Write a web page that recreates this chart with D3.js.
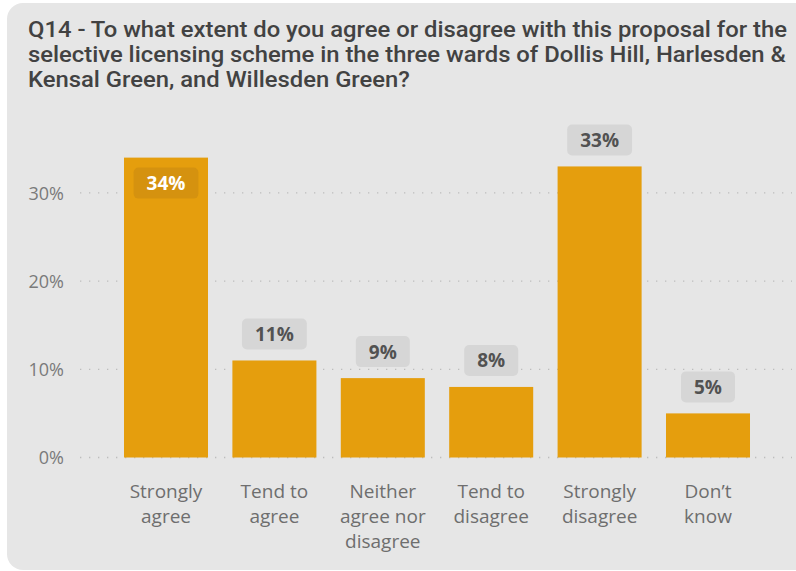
<!DOCTYPE html>
<html>
<head>
<meta charset="utf-8">
<script src="https://cdn.jsdelivr.net/npm/d3@7"></script>
<style>
  html, body { margin: 0; padding: 0; background: #ffffff; }
  svg { display: block; }
</style>
</head>
<body>
<svg id="chart" width="796" height="571"></svg>
<script>
// Survey question and answer shares
const titleLines = [
  "Q14 - To what extent do you agree or disagree with this proposal for the",
  "selective licensing scheme in the three wards of Dollis Hill, Harlesden &",
  "Kensal Green, and Willesden Green?"
];
const categories = [
  "Strongly agree",
  "Tend to agree",
  "Neither agree nor disagree",
  "Tend to disagree",
  "Strongly disagree",
  "Don\u2019t know"
];
const shares = [0.34, 0.11, 0.09, 0.08, 0.33, 0.05];
const tickValues = [0, 0.1, 0.2, 0.3];

const svg = d3.select("#chart");

// Card background
svg.append("rect")
  .attr("x", 7).attr("y", 3)
  .attr("width", 805).attr("height", 567)
  .attr("rx", 16).attr("ry", 16)
  .attr("fill", "#e6e6e6");

// Title: first line fitted to its width, the others share the same horizontal scale
const titleFont = "Roboto, 'DejaVu Sans', sans-serif";
const titleSize = 21.5;
const firstLineWidth = 759;
const probe0 = svg.append("text")
  .attr("font-family", titleFont).attr("font-weight", 500).attr("font-size", titleSize)
  .text(titleLines[0]);
const hScale = firstLineWidth / probe0.node().getComputedTextLength();
probe0.remove();

const title = svg.append("g");
titleLines.forEach((line, i) => {
  const t = title.append("text")
    .attr("x", 28).attr("y", 37 + i * 25)
    .attr("font-family", titleFont)
    .attr("font-weight", 500)
    .attr("font-size", titleSize)
    .attr("fill", "#424242")
    .text(line);
  t.attr("textLength", t.node().getComputedTextLength() * hScale)
   .attr("lengthAdjust", "spacingAndGlyphs");
});

// Scales
const x = d3.scaleBand()
  .domain(categories)
  .range([111.8, 762.2])
  .paddingInner(0.225)
  .paddingOuter(0.1125);

const y = d3.scaleLinear()
  .domain([0, 0.3])
  .range([457.5, 192.9]);

const plotTop = 120;
const fontUI = "'Open Sans', 'Noto Sans', sans-serif";
const pct = d3.format(".0%");

// Dotted gridlines
svg.append("g")
  .selectAll("line")
  .data(tickValues)
  .join("line")
  .attr("x1", 80).attr("x2", 792)
  .attr("y1", d => y(d)).attr("y2", d => y(d))
  .attr("stroke", "#bdbdbd")
  .attr("stroke-width", 1.3)
  .attr("stroke-dasharray", "1.3,7.7");

// Y axis labels
const yAxis = svg.append("g")
  .attr("transform", "translate(64,0)")
  .call(d3.axisLeft(y).tickValues(tickValues).tickFormat(pct).tickSize(0).tickPadding(0));
yAxis.select(".domain").remove();
yAxis.selectAll("text")
  .attr("font-family", fontUI)
  .attr("font-size", 18)
  .attr("fill", "#7a7a7a")
  .attr("dy", "0.36em");

// Bars
const barColor = "#e59e0d";
svg.append("g")
  .selectAll("rect")
  .data(categories)
  .join("rect")
  .attr("x", d => x(d))
  .attr("y", (d, i) => y(shares[i]))
  .attr("width", x.bandwidth())
  .attr("height", (d, i) => y(0) - y(shares[i]))
  .attr("fill", barColor);

// Category labels, wrapped to the band
const xAxis = svg.append("g")
  .attr("transform", `translate(0,${y(0)})`)
  .call(d3.axisBottom(x).tickSize(0).tickPadding(0));
xAxis.select(".domain").remove();
const wrapProbe = svg.append("text").attr("font-family", fontUI).attr("font-size", 19);
xAxis.selectAll("text").each(function (d) {
  const el = d3.select(this);
  el.text(null).attr("y", 0).attr("dy", null)
    .attr("font-family", fontUI)
    .attr("font-size", 19)
    .attr("fill", "#6e6e6e");
  const lines = [];
  let cur = [];
  d.split(" ").forEach(w => {
    wrapProbe.text(cur.concat(w).join(" "));
    if (cur.length && wrapProbe.node().getComputedTextLength() > 95) {
      lines.push(cur.join(" "));
      cur = [w];
    } else {
      cur.push(w);
    }
  });
  lines.push(cur.join(" "));
  lines.forEach((ln, k) => {
    el.append("tspan").attr("x", 0).attr("y", 40 + k * 25).text(ln);
  });
});
wrapProbe.remove();

// Value labels in rounded boxes: above the bar, or inside it when there is no room
const labelH = 31, gap = 11;
const labels = svg.append("g");
categories.forEach((c, i) => {
  const v = shares[i];
  const cx = x(c) + x.bandwidth() / 2;
  const g = labels.append("g");
  const box = g.append("rect").attr("rx", 5).attr("ry", 5);
  const t = g.append("text")
    .attr("x", cx)
    .attr("text-anchor", "middle")
    .attr("font-family", fontUI)
    .attr("font-weight", 700)
    .attr("font-size", 19)
    .text(pct(v));
  const bw = t.node().getComputedTextLength() + 26;
  let top = y(v) - gap - labelH;
  let inside = false;
  if (top < plotTop) {
    top = y(v) + 10;
    inside = true;
  }
  box.attr("x", cx - bw / 2).attr("y", top)
    .attr("width", bw).attr("height", labelH)
    .attr("fill", inside ? "#d5920f" : "#d6d6d6");
  t.attr("y", top + labelH / 2 + 7)
    .attr("fill", inside ? "#ffffff" : "#525252");
});
</script>
</body>
</html>
